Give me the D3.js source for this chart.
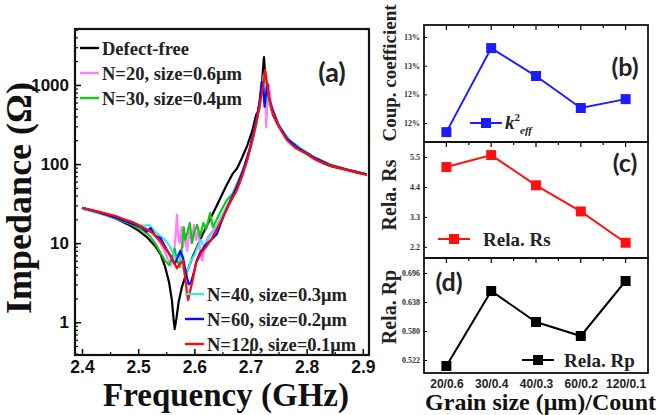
<!DOCTYPE html>
<html><head><meta charset="utf-8">
<script src="https://cdn.jsdelivr.net/npm/d3@7"></script>
<style>body{margin:0;background:#fff}svg{display:block}</style>
</head><body>
<svg id="chart" width="658" height="415"></svg>
<script>
// ---------- Impedance spectra (frequency GHz, |Z| ohm) ----------
const defectFree = [[2.400,28],[2.420,25.5],[2.440,23],[2.460,20.5],[2.480,17.5],[2.500,14.5],[2.515,12],[2.530,9.2],[2.540,7.2],[2.548,5],[2.555,3.2],[2.560,1.9],[2.563,1.1],[2.565,0.82],[2.568,1.1],[2.572,1.8],[2.578,2.8],[2.585,4.0],[2.595,6.2],[2.605,9],[2.615,13],[2.628,20],[2.640,30],[2.650,42],[2.658,55],[2.668,75],[2.676,88],[2.685,120],[2.694,170],[2.703,260],[2.710,420],[2.715,470],[2.719,800],[2.722,1500],[2.724,2250],[2.726,1400],[2.728,700],[2.731,620],[2.735,560],[2.740,420],[2.748,320],[2.755,270],[2.765,215],[2.775,180],[2.788,150],[2.800,135],[2.815,115],[2.830,102],[2.845,93],[2.860,88],[2.875,83],[2.890,78],[2.907,74]];
const n20 = [[2.400,28],[2.430,24],[2.460,20.5],[2.490,17.5],[2.510,15],[2.525,13.5],[2.535,11],[2.545,8.5],[2.552,6.5],[2.558,5.2],[2.562,6.5],[2.565,9],[2.567,14],[2.569,23],[2.571,12],[2.574,10],[2.577,16],[2.580,9],[2.583,13],[2.587,8],[2.591,14],[2.595,10],[2.599,17],[2.603,11],[2.607,15],[2.611,7],[2.614,6],[2.618,9],[2.624,12],[2.632,14],[2.642,18],[2.652,24],[2.664,35],[2.676,55],[2.688,90],[2.698,150],[2.708,280],[2.715,520],[2.720,900],[2.724,1350],[2.726,900],[2.728,290],[2.730,600],[2.733,1000],[2.737,550],[2.745,380],[2.755,265],[2.770,195],[2.790,150],[2.815,118],[2.845,96],[2.875,84],[2.907,74]];
const n30 = [[2.400,27.5],[2.430,24],[2.460,20.5],[2.490,17],[2.505,15],[2.520,12.5],[2.530,10],[2.540,7.5],[2.548,6],[2.555,5.3],[2.560,6.5],[2.565,8.5],[2.569,6.2],[2.574,5],[2.578,9],[2.581,16],[2.584,11],[2.588,14],[2.592,18],[2.596,10],[2.600,14],[2.605,17],[2.610,12],[2.616,18],[2.621,15],[2.628,24],[2.633,16],[2.640,20],[2.648,26],[2.658,35],[2.668,42],[2.678,60],[2.690,95],[2.700,160],[2.710,310],[2.716,600],[2.720,1000],[2.723,1300],[2.726,1000],[2.729,700],[2.733,600],[2.740,450],[2.750,310],[2.765,210],[2.790,155],[2.815,120],[2.845,97],[2.875,84],[2.907,74]];
const n40 = [[2.400,27],[2.430,24],[2.460,21],[2.490,18],[2.510,16.5],[2.520,17],[2.530,14],[2.545,11.5],[2.555,9.5],[2.562,7.5],[2.568,6],[2.572,7.5],[2.578,5.5],[2.584,3.8],[2.588,4.5],[2.594,6],[2.600,7],[2.606,9],[2.612,11],[2.618,8.5],[2.626,12],[2.640,16],[2.652,24],[2.665,36],[2.678,55],[2.690,95],[2.700,160],[2.710,320],[2.716,560],[2.721,900],[2.724,1300],[2.727,800],[2.731,640],[2.738,470],[2.750,310],[2.770,200],[2.800,138],[2.830,104],[2.870,86],[2.907,74]];
const n60 = [[2.400,28],[2.430,24.5],[2.460,21],[2.490,17.5],[2.505,16],[2.515,14],[2.522,15.5],[2.530,12.5],[2.540,11.5],[2.550,8.5],[2.558,6.8],[2.565,5.4],[2.570,6.5],[2.575,8],[2.580,6.5],[2.585,4.2],[2.590,3.0],[2.594,3.2],[2.600,4.5],[2.604,6],[2.610,7.5],[2.620,9.5],[2.630,11],[2.640,13],[2.652,22],[2.663,33],[2.676,52],[2.687,84],[2.698,150],[2.708,300],[2.716,600],[2.720,1100],[2.723,900],[2.725,530],[2.727,700],[2.730,1050],[2.733,680],[2.740,470],[2.750,310],[2.765,210],[2.785,160],[2.810,125],[2.840,98],[2.870,86],[2.907,74]];
const n120 = [[2.400,28],[2.420,26],[2.440,24],[2.460,22],[2.475,20],[2.490,18.5],[2.500,17],[2.515,15],[2.526,13.4],[2.540,10.5],[2.550,8.2],[2.560,6.5],[2.569,4.8],[2.575,5.6],[2.580,5.9],[2.584,3.5],[2.587,2.3],[2.589,1.9],[2.592,2.4],[2.597,3.4],[2.603,5.6],[2.612,7.5],[2.620,8.8],[2.628,10.5],[2.640,15],[2.651,21],[2.663,32],[2.676,47],[2.685,70],[2.694,110],[2.704,210],[2.712,380],[2.717,590],[2.722,900],[2.726,1550],[2.729,1100],[2.733,700],[2.738,480],[2.745,360],[2.755,260],[2.765,200],[2.780,160],[2.800,135],[2.815,115],[2.830,103],[2.850,92],[2.870,85],[2.890,78],[2.907,73]];

const spectraNames = ["Defect-free","N=20, size=0.6μm","N=30, size=0.4μm","N=40, size=0.3μm","N=60, size=0.2μm","N=120, size=0.1μm"];
const spectraColors = ["#000000","#ff80ff","#16c816","#3ee6e6","#0a0aff","#ff0a0a"];
const spectra = [defectFree, n20, n30, n40, n60, n120];

const freqTicks = [2.4, 2.5, 2.6, 2.7, 2.8, 2.9];
const freqMinorTicks = [2.45, 2.55, 2.65, 2.75, 2.85];
const impTicks = [1, 10, 100, 1000];

// ---------- Grain-size summary ----------
const grainLabels = ["20/0.6","30/0.4","40/0.3","60/0.2","120/0.1"];
const couplingPct = [12.137, 12.723, 12.528, 12.305, 12.367];
const relaRs = [5.13, 5.57, 4.46, 3.50, 2.35];
const relaRp = [0.510, 0.660, 0.598, 0.570, 0.680];
const couplingTicks = [12.2, 12.4, 12.6, 12.8];
const rsTicks = [2.2, 3.3, 4.4, 5.5];
const rpTicks = [0.522, 0.580, 0.638, 0.696];

const svg = d3.select("#chart");
const SERIF = "'Liberation Serif','Times New Roman',serif";
const SANS = "'Liberation Sans',Arial,sans-serif";
const LABEL = "Lato,'Open Sans',sans-serif";

// ================= Panel (a) =================
const A = {l:75, r:369, t:29, b:355};
const xA = d3.scaleLinear().domain([2.3875, 2.911]).range([A.l, A.r]);
const yA = d3.scaleLog().domain([0.385, 5100]).range([A.b, A.t]);

svg.append("clipPath").attr("id","clipA").append("rect")
  .attr("x",A.l).attr("y",A.t).attr("width",A.r-A.l).attr("height",A.b-A.t);

const lineA = d3.line().x(d=>xA(d[0])).y(d=>yA(d[1]));
const gA = svg.append("g").attr("clip-path","url(#clipA)");
spectra.forEach((s,i)=>{
  gA.append("path").datum(s).attr("d",lineA).attr("fill","none")
    .attr("stroke",spectraColors[i]).attr("stroke-width",2.2).attr("stroke-linejoin","round");
});

// axes with inward ticks
const yAxisA = d3.axisLeft(yA).tickValues(yA.ticks()).tickSizeInner(-3).tickSizeOuter(0).tickFormat("");
svg.append("g").attr("transform",`translate(${A.l},0)`).call(yAxisA)
  .call(g=>{g.select(".domain").remove(); g.selectAll("line").attr("stroke","#000").attr("stroke-width",1.2);});
const yMajA = d3.axisLeft(yA).tickValues(impTicks).tickSizeInner(-6).tickSizeOuter(0).tickPadding(6).tickFormat(d3.format("d"));
svg.append("g").attr("transform",`translate(${A.l},0)`).call(yMajA)
  .call(g=>{g.select(".domain").remove(); g.selectAll("line").attr("stroke","#000").attr("stroke-width",1.5);
    g.selectAll("text").attr("font-family",SANS).attr("font-weight","bold").attr("font-size",17).attr("fill","#111");});

svg.append("g").attr("transform",`translate(0,${A.b})`)
  .call(d3.axisBottom(xA).tickValues(freqMinorTicks).tickSizeInner(-3).tickSizeOuter(0).tickFormat(""))
  .call(g=>{g.select(".domain").remove(); g.selectAll("line").attr("stroke","#000").attr("stroke-width",1.2);});
svg.append("g").attr("transform",`translate(0,${A.b})`)
  .call(d3.axisBottom(xA).tickValues(freqTicks).tickSizeInner(-6).tickSizeOuter(0).tickPadding(6).tickFormat(d3.format(".1f")))
  .call(g=>{g.select(".domain").remove(); g.selectAll("line").attr("stroke","#000").attr("stroke-width",1.5);
    g.selectAll("text").attr("font-family",SANS).attr("font-weight","bold").attr("font-size",17.5).attr("fill","#111");});

svg.append("rect").attr("x",A.l).attr("y",A.t).attr("width",A.r-A.l).attr("height",A.b-A.t)
  .attr("fill","none").attr("stroke","#111").attr("stroke-width",2.2);

svg.append("text").attr("x",(A.l+A.r)/2+4).attr("y",406).attr("text-anchor","middle")
  .attr("font-family",SERIF).attr("font-weight","bold").attr("font-size",33).attr("fill","#111")
  .text("Frequency (GHz)");
svg.append("text").attr("transform","translate(31,198) rotate(-90)").attr("text-anchor","middle")
  .attr("font-family",SERIF).attr("font-weight","bold").attr("font-size",36).attr("fill","#111")
  .text("Impedance (Ω)");
svg.append("text").attr("x",332).attr("y",82).attr("text-anchor","middle")
  .attr("font-family",LABEL).attr("font-weight","bold").attr("font-size",27).attr("fill","#222").text("(a)");

// legends
const legendRows = [
  {i:0, x:80, y:48},{i:1, x:80, y:73},{i:2, x:80, y:98},
  {i:3, x:185, y:294},{i:4, x:185, y:319},{i:5, x:185, y:344}];
legendRows.forEach(r=>{
  svg.append("line").attr("x1",r.x).attr("x2",r.x+19).attr("y1",r.y).attr("y2",r.y)
    .attr("stroke",spectraColors[r.i]).attr("stroke-width",2.4);
  svg.append("text").attr("x",r.x+22).attr("y",r.y+6.5)
    .attr("font-family",SERIF).attr("font-weight","bold").attr("font-size",18.5).attr("fill","#222")
    .text(spectraNames[r.i]);
});

// ================= Panels (b)(c)(d) =================
const R = {l:424, r:648};
const xR = d3.scalePoint().domain(grainLabels).range([R.l, R.r]).padding(0.5);
const panels = [
  {t:25, b:142, vals:couplingPct, ticks:couplingTicks, dom:[12.068,12.884], color:"#1c1cff",
   fmt:d=>Math.round(d)+"%", title:"Coup. coefficient", titleY:73, titleSize:19, tag:"(b)", tagX:625, tagY:76},
  {t:142, b:258, vals:relaRs, ticks:rsTicks, dom:[1.79,6.05], color:"#ff1010",
   fmt:d3.format(".1f"), title:"Rela. Rs", titleY:195, titleSize:20, tag:"(c)", tagX:625, tagY:172},
  {t:258, b:373, vals:relaRp, ticks:rpTicks, dom:[0.496,0.726], color:"#000000",
   fmt:d3.format(".3f"), title:"Rela. Rp", titleY:307, titleSize:20, tag:"(d)", tagX:449, tagY:291}
];

panels.forEach((p,pi)=>{
  const y = d3.scaleLinear().domain(p.dom).range([p.b, p.t]);
  // left axis
  svg.append("g").attr("transform",`translate(${R.l},0)`)
    .call(d3.axisLeft(y).tickValues(p.ticks).tickSizeInner(-3).tickSizeOuter(0).tickPadding(4).tickFormat(p.fmt))
    .call(g=>{g.select(".domain").remove(); g.selectAll("line").attr("stroke","#000");
      g.selectAll("text").attr("font-family",SERIF).attr("font-weight","bold").attr("font-size",8).attr("fill","#333");});
  // category ticks hanging from top edge
  const minor = d3.range(grainLabels.length-1).map(i=>(xR(grainLabels[i])+xR(grainLabels[i+1]))/2);
  const tg = svg.append("g");
  grainLabels.forEach(c=>tg.append("line").attr("x1",xR(c)).attr("x2",xR(c)).attr("y1",p.t).attr("y2",p.t+5));
  minor.forEach(m=>tg.append("line").attr("x1",m).attr("x2",m).attr("y1",p.t).attr("y2",p.t+3));
  tg.selectAll("line").attr("stroke","#000").attr("stroke-width",1.2);

  svg.append("rect").attr("x",R.l).attr("y",p.t).attr("width",R.r-R.l).attr("height",p.b-p.t)
    .attr("fill","none").attr("stroke","#111").attr("stroke-width",1.8);

  const pts = grainLabels.map((c,i)=>[xR(c), y(p.vals[i])]);
  svg.append("path").datum(pts).attr("d",d3.line()).attr("fill","none")
    .attr("stroke",p.color).attr("stroke-width",2);
  svg.append("g").selectAll("rect").data(pts).join("rect")
    .attr("x",d=>d[0]-5).attr("y",d=>d[1]-5).attr("width",10).attr("height",10).attr("fill",p.color);

  svg.append("text").attr("transform",`translate(396,${p.titleY}) rotate(-90)`).attr("text-anchor","middle")
    .attr("font-family",SERIF).attr("font-weight","bold").attr("font-size",p.titleSize).attr("fill","#222").text(p.title);
  svg.append("text").attr("x",p.tagX).attr("y",p.tagY).attr("text-anchor","middle")
    .attr("font-family",LABEL).attr("font-weight","bold").attr("font-size",25).attr("fill","#222").text(p.tag);
});

// bottom category labels
svg.append("g").attr("transform",`translate(0,${panels[2].b})`)
  .call(d3.axisBottom(xR).tickSize(0).tickPadding(6))
  .call(g=>{g.select(".domain").remove();
    g.selectAll("text").attr("font-family",SANS).attr("font-weight","bold").attr("font-size",12).attr("fill","#222");});
svg.append("text").attr("x",656).attr("y",410).attr("text-anchor","end")
  .attr("font-family",SERIF).attr("font-weight","bold").attr("font-size",24).attr("fill","#111")
  .text("Grain size (μm)/Count");

// panel legends
function seriesKey(x, y, color){
  svg.append("line").attr("x1",x).attr("x2",x+32).attr("y1",y).attr("y2",y).attr("stroke",color).attr("stroke-width",2);
  svg.append("rect").attr("x",x+16-5).attr("y",y-5).attr("width",10).attr("height",10).attr("fill",color);
}
seriesKey(470, 123, panels[0].color);
const kt = svg.append("text").attr("x",505).attr("y",129).attr("font-family",SERIF).attr("font-weight","bold").attr("fill","#222");
kt.append("tspan").attr("font-style","italic").attr("font-size",19).text("k");
kt.append("tspan").attr("font-size",11).attr("dy",-8).text("2");
kt.append("tspan").attr("font-style","italic").attr("font-size",11).attr("dx",0).attr("dy",13).text("eff");

seriesKey(438, 239, panels[1].color);
svg.append("text").attr("x",483).attr("y",245.5).attr("font-family",SERIF).attr("font-weight","bold")
  .attr("font-size",19).attr("fill","#222").text("Rela. Rs");
seriesKey(522, 360, panels[2].color);
svg.append("text").attr("x",564).attr("y",366.5).attr("font-family",SERIF).attr("font-weight","bold")
  .attr("font-size",19).attr("fill","#222").text("Rela. Rp");
</script>
</body></html>
